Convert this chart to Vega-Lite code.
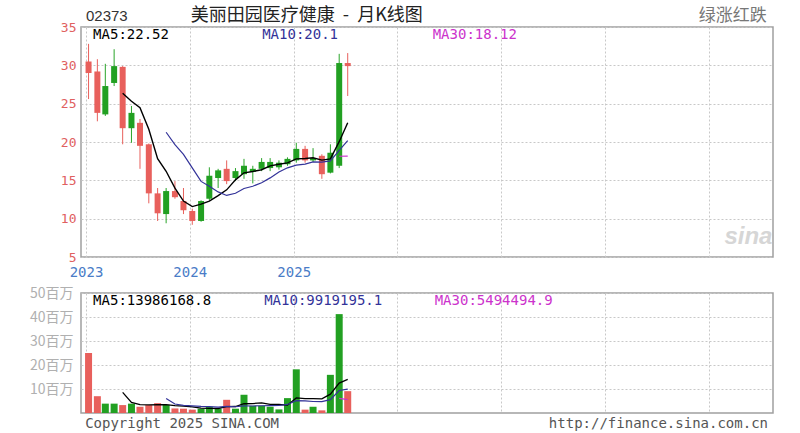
{
  "$schema": "https://vega.github.io/schema/vega-lite/v6.json",
  "background": "white",
  "padding": {"left": 28, "top": 6, "right": 5, "bottom": 0},
  "spacing": 36,
  "bounds": "flush",
  "config": {
    "view": {"stroke": "#a0a0a0", "strokeWidth": 1.5},
    "axis": {"gridColor": "#c8c8c8", "gridDash": [2, 2], "gridWidth": 1, "domain": false, "ticks": false, "title": null, "labelOverlap": false}
  },
  "datasets": {
    "k": [
      {"date": "2023-01-10", "open": 30.5, "high": 32.8, "low": 25.6, "close": 29.0, "volume": 25000000},
      {"date": "2023-02-10", "open": 29.2, "high": 30.8, "low": 22.7, "close": 23.8, "volume": 7000000},
      {"date": "2023-03-10", "open": 23.6, "high": 30.2, "low": 23.4, "close": 27.3, "volume": 3900000},
      {"date": "2023-04-10", "open": 27.7, "high": 32.1, "low": 27.3, "close": 29.9, "volume": 3900000},
      {"date": "2023-05-10", "open": 29.8, "high": 29.9, "low": 19.7, "close": 21.8, "volume": 3300000, "ma5": 26.36, "vma5": 8620000},
      {"date": "2023-06-10", "open": 21.8, "high": 24.7, "low": 19.9, "close": 23.8, "volume": 3900000, "ma5": 25.32, "vma5": 4400000},
      {"date": "2023-07-10", "open": 22.5, "high": 23.0, "low": 16.5, "close": 19.5, "volume": 2600000, "ma5": 24.46, "vma5": 3520000},
      {"date": "2023-08-10", "open": 19.7, "high": 19.8, "low": 12.0, "close": 13.3, "volume": 3300000, "ma5": 21.66, "vma5": 3400000},
      {"date": "2023-09-10", "open": 13.3, "high": 14.0, "low": 9.7, "close": 10.7, "volume": 4100000, "ma5": 17.82, "vma5": 3440000},
      {"date": "2023-10-10", "open": 10.6, "high": 14.0, "low": 9.4, "close": 13.6, "volume": 3400000, "ma5": 16.18, "ma10": 21.27, "vma5": 3460000, "vma10": 6040000},
      {"date": "2023-11-10", "open": 13.6, "high": 14.9, "low": 12.6, "close": 12.8, "volume": 1900000, "ma5": 13.98, "ma10": 19.65, "vma5": 3060000, "vma10": 3730000},
      {"date": "2023-12-10", "open": 12.3, "high": 14.0, "low": 10.6, "close": 11.1, "volume": 1800000, "ma5": 12.3, "ma10": 18.38, "vma5": 2900000, "vma10": 3210000},
      {"date": "2024-01-10", "open": 11.0, "high": 11.3, "low": 9.2, "close": 9.7, "volume": 1400000, "ma5": 11.58, "ma10": 16.62, "vma5": 2520000, "vma10": 2960000},
      {"date": "2024-02-10", "open": 9.7, "high": 12.4, "low": 9.6, "close": 12.3, "volume": 1800000, "ma5": 11.9, "ma10": 14.86, "vma5": 2060000, "vma10": 2750000},
      {"date": "2024-03-10", "open": 12.6, "high": 16.7, "low": 12.4, "close": 15.6, "volume": 2600000, "ma5": 12.3, "ma10": 14.24, "vma5": 1900000, "vma10": 2680000},
      {"date": "2024-04-10", "open": 15.3, "high": 16.5, "low": 14.0, "close": 16.3, "volume": 1800000, "ma5": 13.0, "ma10": 13.49, "vma5": 1880000, "vma10": 2470000},
      {"date": "2024-05-10", "open": 16.5, "high": 17.6, "low": 14.5, "close": 14.9, "volume": 5500000, "ma5": 13.76, "ma10": 13.03, "vma5": 2620000, "vma10": 2760000},
      {"date": "2024-06-10", "open": 15.3, "high": 16.6, "low": 14.9, "close": 16.2, "volume": 1800000, "ma5": 15.06, "ma10": 13.32, "vma5": 2700000, "vma10": 2610000},
      {"date": "2024-07-10", "open": 15.8, "high": 17.8, "low": 15.2, "close": 16.9, "volume": 7600000, "ma5": 15.98, "ma10": 13.94, "vma5": 3860000, "vma10": 2960000},
      {"date": "2024-08-10", "open": 16.1, "high": 16.9, "low": 14.6, "close": 16.5, "volume": 3000000, "ma5": 16.16, "ma10": 14.23, "vma5": 3940000, "vma10": 2920000},
      {"date": "2024-09-10", "open": 16.5, "high": 17.9, "low": 16.2, "close": 17.4, "volume": 3000000, "ma5": 16.38, "ma10": 14.69, "vma5": 4180000, "vma10": 3030000},
      {"date": "2024-10-10", "open": 16.6, "high": 17.9, "low": 16.2, "close": 17.4, "volume": 2600000, "ma5": 16.88, "ma10": 15.32, "vma5": 3600000, "vma10": 3110000},
      {"date": "2024-11-10", "open": 16.7, "high": 17.6, "low": 16.4, "close": 17.3, "volume": 1500000, "ma5": 17.1, "ma10": 16.08, "vma5": 3540000, "vma10": 3120000},
      {"date": "2024-12-10", "open": 17.1, "high": 18.0, "low": 16.9, "close": 17.8, "volume": 6200000, "ma5": 17.28, "ma10": 16.63, "vma5": 3260000, "vma10": 3560000},
      {"date": "2025-01-10", "open": 17.6, "high": 19.9, "low": 17.3, "close": 19.1, "volume": 18200000, "ma5": 17.8, "ma10": 16.98, "vma5": 6300000, "vma10": 5120000},
      {"date": "2025-02-10", "open": 19.1, "high": 19.5, "low": 17.3, "close": 17.6, "volume": 1400000, "ma5": 17.84, "ma10": 17.11, "vma5": 5980000, "vma10": 5080000},
      {"date": "2025-03-10", "open": 17.6, "high": 19.2, "low": 17.4, "close": 17.9, "volume": 2600000, "ma5": 17.94, "ma10": 17.41, "vma5": 5980000, "vma10": 4790000},
      {"date": "2025-04-10", "open": 18.2, "high": 18.4, "low": 15.2, "close": 15.8, "volume": 1100000, "ma5": 17.64, "ma10": 17.37, "vma5": 5900000, "vma10": 4720000},
      {"date": "2025-05-10", "open": 16.0, "high": 19.7, "low": 15.9, "close": 18.6, "volume": 15900000, "ma5": 17.8, "ma10": 17.54, "vma5": 7840000, "vma10": 5550000},
      {"date": "2025-06-10", "open": 16.9, "high": 31.5, "low": 16.6, "close": 30.3, "volume": 41200000, "ma5": 20.04, "ma10": 18.92, "ma30": 18.14, "vma5": 12440000, "vma10": 9370000, "vma30": 6110000},
      {"date": "2025-07-10", "open": 30.3, "high": 31.6, "low": 26.0, "close": 29.9, "volume": 9100000, "ma5": 22.5, "ma10": 20.17, "ma30": 18.17, "vma5": 13980000, "vma10": 9980000, "vma30": 5580000}
    ]
  },
  "vconcat": [
    {
      "width": 692,
      "height": 230,
      "layer": [
        {
          "data": {"name": "k"},
          "mark": {"type": "rule", "strokeWidth": 1},
          "encoding": {
            "x": {
              "field": "date", "type": "temporal",
              "scale": {"type": "utc", "nice": false, "domain": [{"year": 2023, "month": 1, "date": 1, "utc": true}, {"year": 2029, "month": 7, "date": 28, "utc": true}]},
              "axis": {
                "values": [{"year": 2023, "month": 1, "date": 1, "utc": true}, {"year": 2024, "month": 1, "date": 1, "utc": true}, {"year": 2025, "month": 1, "date": 1, "utc": true}, {"year": 2026, "month": 1, "date": 1, "utc": true}, {"year": 2027, "month": 1, "date": 1, "utc": true}, {"year": 2028, "month": 1, "date": 1, "utc": true}, {"year": 2029, "month": 1, "date": 1, "utc": true}],
                "tickCount": 20,
                "labelExpr": "utcyear(datum.value) <= 2025 ? utcFormat(datum.value, '%Y') : ''",
                "labelColor": "#4a7cc7", "labelFont": "DejaVu Sans Mono", "labelFontSize": 14, "labelPadding": 8, "labelFlush": false, "labelOverlap": false, "grid": true
              }
            },
            "y": {"field": "low", "type": "quantitative", "scale": {"domain": [5, 35], "nice": false, "zero": false},
              "axis": {"values": [5, 10, 15, 20, 25, 30, 35], "tickCount": 20, "labelColor": "#e06060", "labelFont": "DejaVu Sans Mono", "labelFontSize": 13, "labelPadding": 5, "labelOverlap": false, "grid": true}},
            "y2": {"field": "high"},
            "color": {"condition": {"test": "datum.close >= datum.open", "value": "#2aa52a"}, "value": "#e8605c"}
          }
        },
        {
          "data": {"name": "k"},
          "mark": {"type": "bar", "size": 6},
          "encoding": {
            "x": {"field": "date", "type": "temporal"},
            "y": {"field": "open", "type": "quantitative"},
            "y2": {"field": "close"},
            "color": {"condition": {"test": "datum.close >= datum.open", "value": "#22a022"}, "value": "#e8605c"}
          }
        },
        {"data": {"name": "k"}, "mark": {"type": "line", "color": "#000000", "strokeWidth": 1.4}, "encoding": {"x": {"field": "date", "type": "temporal"}, "y": {"field": "ma5", "type": "quantitative"}}},
        {"data": {"name": "k"}, "mark": {"type": "line", "color": "#333399", "strokeWidth": 1.2}, "encoding": {"x": {"field": "date", "type": "temporal"}, "y": {"field": "ma10", "type": "quantitative"}}},
        {"data": {"name": "k"}, "mark": {"type": "line", "color": "#cc33cc", "strokeWidth": 1.2}, "encoding": {"x": {"field": "date", "type": "temporal"}, "y": {"field": "ma30", "type": "quantitative"}}},
        {"data": {"values": [{}]}, "mark": {"type": "text", "text": "MA5:22.52", "align": "left", "baseline": "middle", "font": "DejaVu Sans Mono", "fontSize": 14, "color": "#000000"},
          "encoding": {"x": {"datum": {"year": 2023, "month": 1, "date": 26, "utc": true}, "type": "temporal"}, "y": {"datum": 33.9, "type": "quantitative"}}},
        {"data": {"values": [{}]}, "mark": {"type": "text", "text": "MA10:20.1", "align": "left", "baseline": "middle", "font": "DejaVu Sans Mono", "fontSize": 14, "color": "#333399"},
          "encoding": {"x": {"datum": {"year": 2024, "month": 9, "date": 12, "utc": true}, "type": "temporal"}, "y": {"datum": 33.9, "type": "quantitative"}}},
        {"data": {"values": [{}]}, "mark": {"type": "text", "text": "MA30:18.12", "align": "left", "baseline": "middle", "font": "DejaVu Sans Mono", "fontSize": 14, "color": "#cc33cc"},
          "encoding": {"x": {"datum": {"year": 2026, "month": 5, "date": 5, "utc": true}, "type": "temporal"}, "y": {"datum": 33.9, "type": "quantitative"}}},
        {"data": {"values": [{}]}, "mark": {"type": "text", "text": "02373", "align": "left", "baseline": "middle", "font": "Liberation Sans", "fontSize": 15, "color": "#333333"},
          "encoding": {"x": {"datum": {"year": 2023, "month": 1, "date": 1, "utc": true}, "type": "temporal"}, "y": {"datum": 36.4, "type": "quantitative"}}},
        {"data": {"values": [{}]}, "mark": {"type": "text", "text": "美丽田园医疗健康\u00a0\u00a0-\u00a0\u00a0月K线图", "align": "center", "baseline": "middle", "font": "Noto Sans CJK SC", "fontSize": 18, "color": "#222222"},
          "encoding": {"x": {"datum": {"year": 2025, "month": 2, "date": 16, "utc": true}, "type": "temporal"}, "y": {"datum": 36.4, "type": "quantitative"}}},
        {"data": {"values": [{}]}, "mark": {"type": "text", "text": "绿涨红跌", "align": "right", "baseline": "middle", "font": "Noto Sans CJK SC", "fontSize": 17, "color": "#777777"},
          "encoding": {"x": {"datum": {"year": 2029, "month": 7, "date": 24, "utc": true}, "type": "temporal"}, "y": {"datum": 36.4, "type": "quantitative"}}},
        {"data": {"values": [{}]}, "mark": {"type": "text", "text": "sina", "align": "center", "baseline": "middle", "font": "Liberation Sans", "fontSize": 24, "fontWeight": "bold", "fontStyle": "italic", "color": "#d6d6d6"},
          "encoding": {"x": {"datum": {"year": 2029, "month": 5, "date": 20, "utc": true}, "type": "temporal"}, "y": {"datum": 7.6, "type": "quantitative"}}}
      ]
    },
    {
      "width": 692,
      "height": 120,
      "layer": [
        {
          "data": {"name": "k"},
          "mark": {"type": "bar", "size": 7},
          "encoding": {
            "x": {
              "field": "date", "type": "temporal",
              "scale": {"type": "utc", "nice": false, "domain": [{"year": 2023, "month": 1, "date": 1, "utc": true}, {"year": 2029, "month": 7, "date": 28, "utc": true}]},
              "axis": {
                "values": [{"year": 2023, "month": 1, "date": 1, "utc": true}, {"year": 2024, "month": 1, "date": 1, "utc": true}, {"year": 2025, "month": 1, "date": 1, "utc": true}, {"year": 2026, "month": 1, "date": 1, "utc": true}, {"year": 2027, "month": 1, "date": 1, "utc": true}, {"year": 2028, "month": 1, "date": 1, "utc": true}, {"year": 2029, "month": 1, "date": 1, "utc": true}],
                "tickCount": 20,
                "labels": false, "grid": true
              }
            },
            "y": {"field": "volume", "type": "quantitative", "scale": {"domain": [0, 50000000], "nice": false},
              "axis": {"values": [10000000, 20000000, 30000000, 40000000, 50000000], "tickCount": 20, "labelExpr": "(datum.value / 1000000) + '百万'", "labelColor": "#b0b0b0", "labelFont": "Noto Sans CJK SC", "labelFontSize": 14, "labelPadding": 8, "labelOverlap": false, "grid": true}},
            "color": {"condition": {"test": "datum.close >= datum.open", "value": "#22a022"}, "value": "#e8605c"}
          }
        },
        {"data": {"name": "k"}, "mark": {"type": "line", "color": "#000000", "strokeWidth": 1.3}, "encoding": {"x": {"field": "date", "type": "temporal"}, "y": {"field": "vma5", "type": "quantitative"}}},
        {"data": {"name": "k"}, "mark": {"type": "line", "color": "#333399", "strokeWidth": 1.2}, "encoding": {"x": {"field": "date", "type": "temporal"}, "y": {"field": "vma10", "type": "quantitative"}}},
        {"data": {"name": "k"}, "mark": {"type": "line", "color": "#cc33cc", "strokeWidth": 1.2}, "encoding": {"x": {"field": "date", "type": "temporal"}, "y": {"field": "vma30", "type": "quantitative"}}},
        {"data": {"values": [{}]}, "mark": {"type": "text", "text": "MA5:13986168.8", "align": "left", "baseline": "middle", "font": "DejaVu Sans Mono", "fontSize": 14, "color": "#000000"},
          "encoding": {"x": {"datum": {"year": 2023, "month": 1, "date": 26, "utc": true}, "type": "temporal"}, "y": {"datum": 46700000, "type": "quantitative"}}},
        {"data": {"values": [{}]}, "mark": {"type": "text", "text": "MA10:9919195.1", "align": "left", "baseline": "middle", "font": "DejaVu Sans Mono", "fontSize": 14, "color": "#333399"},
          "encoding": {"x": {"datum": {"year": 2024, "month": 9, "date": 19, "utc": true}, "type": "temporal"}, "y": {"datum": 46700000, "type": "quantitative"}}},
        {"data": {"values": [{}]}, "mark": {"type": "text", "text": "MA30:5494494.9", "align": "left", "baseline": "middle", "font": "DejaVu Sans Mono", "fontSize": 14, "color": "#cc33cc"},
          "encoding": {"x": {"datum": {"year": 2026, "month": 5, "date": 12, "utc": true}, "type": "temporal"}, "y": {"datum": 46700000, "type": "quantitative"}}},
        {"data": {"values": [{}]}, "mark": {"type": "text", "text": "Copyright 2025 SINA.COM", "align": "left", "baseline": "middle", "font": "DejaVu Sans Mono", "fontSize": 14, "color": "#555555"},
          "encoding": {"x": {"datum": {"year": 2022, "month": 12, "date": 29, "utc": true}, "type": "temporal"}, "y": {"datum": -4600000, "type": "quantitative"}}},
        {"data": {"values": [{}]}, "mark": {"type": "text", "text": "http://finance.sina.com.cn", "align": "right", "baseline": "middle", "font": "DejaVu Sans Mono", "fontSize": 14, "color": "#555555"},
          "encoding": {"x": {"datum": {"year": 2029, "month": 7, "date": 28, "utc": true}, "type": "temporal"}, "y": {"datum": -4600000, "type": "quantitative"}}}
      ]
    }
  ]
}
